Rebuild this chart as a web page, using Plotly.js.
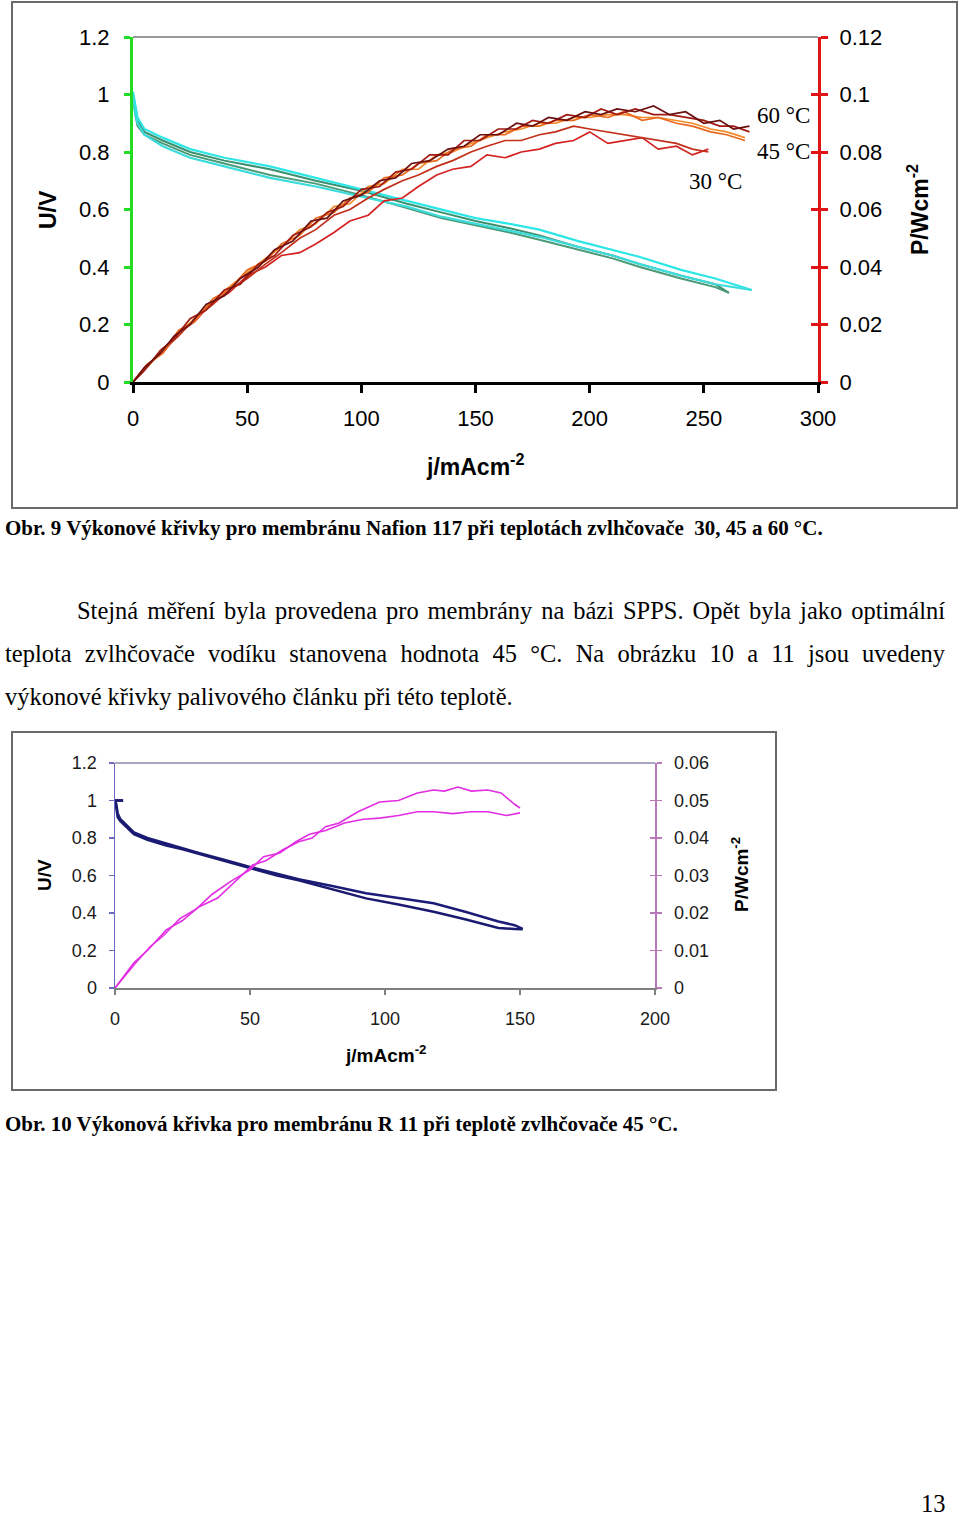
<!DOCTYPE html>
<html><head><meta charset="utf-8">
<script src="https://cdn.plot.ly/plotly-3.0.1.min.js"></script>
<style>
body{margin:0;width:960px;height:1514px;position:relative;background:#fff;overflow:hidden}
#plot{position:absolute;left:0;top:0;width:960px;height:1514px}
.frame{position:absolute;border:2px solid #6a6a6a;box-sizing:border-box;pointer-events:none}
.t{position:absolute;font-family:"Liberation Serif","Times New Roman",serif;color:#000;white-space:nowrap;pointer-events:none}
.j{text-align:justify;text-align-last:justify;white-space:normal;overflow:hidden}
</style></head><body>
<div class="frame" style="left:11px;top:1px;width:947px;height:508px"></div>
<div class="frame" style="left:11px;top:731px;width:766px;height:360px"></div>
<div id="plot"></div>
<div class="t" id="cap1" style="font-weight:bold">Obr. 9 Výkonové křivky pro membránu Nafion 117 při teplotách zvlhčovače&nbsp; 30, 45 a 60 °C.</div>
<div class="t j" id="p1">Stejná měření byla provedena pro membrány na bázi SPPS. Opět byla jako optimální</div>
<div class="t j" id="p2">teplota zvlhčovače vodíku stanovena hodnota 45 °C. Na obrázku 10 a 11 jsou uvedeny</div>
<div class="t" id="p3">výkonové křivky palivového článku při této teplotě.</div>
<div class="t" id="cap2" style="font-weight:bold">Obr. 10 Výkonová křivka pro membránu R 11 při teplotě zvlhčovače 45 °C.</div>
<div class="t" id="pg">13</div>
<script>
// ---------- Chart 1: Nafion 117 ----------
const xTicks1 = [0, 50, 100, 150, 200, 250, 300];
const uTicks1 = [0, 0.2, 0.4, 0.6, 0.8, 1, 1.2];
const pTicks1 = [0, 0.02, 0.04, 0.06, 0.08, 0.1, 0.12];

const jU_cyan = [0, 1, 2, 5, 13, 25, 40, 60, 80, 100, 120, 135, 150, 165, 178, 195, 210, 222, 240, 255, 271];
const U_cyanA = [1.01, 0.96, 0.92, 0.88, 0.85, 0.81, 0.78, 0.75, 0.71, 0.67, 0.63, 0.60, 0.57, 0.55, 0.53, 0.49, 0.46, 0.435, 0.39, 0.36, 0.32];
const U_cyanB = [1.0, 0.93, 0.90, 0.86, 0.82, 0.78, 0.75, 0.71, 0.68, 0.645, 0.61, 0.575, 0.55, 0.525, 0.505, 0.47, 0.44, 0.41, 0.37, 0.34, 0.32];
const jU_green = [0, 1, 2, 5, 13, 25, 40, 60, 80, 100, 120, 135, 150, 165, 178, 195, 210, 222, 240, 255, 261];
const U_greenA = [1.0, 0.95, 0.91, 0.87, 0.84, 0.80, 0.77, 0.74, 0.70, 0.665, 0.62, 0.59, 0.56, 0.535, 0.51, 0.47, 0.44, 0.41, 0.37, 0.34, 0.31];
const U_greenB = [0.99, 0.93, 0.89, 0.86, 0.83, 0.79, 0.76, 0.72, 0.69, 0.65, 0.605, 0.57, 0.545, 0.52, 0.495, 0.46, 0.43, 0.40, 0.36, 0.33, 0.31];

const jP60 = [0, 5, 12, 18, 25, 32, 40, 47, 55, 62, 70, 78, 85, 92, 100, 108, 115, 122, 130, 138, 145, 152, 160, 168, 175, 182, 190, 198, 205, 212, 220, 228, 235, 242, 250, 257, 263, 270];
const P60a = [0, 0.005, 0.010, 0.016, 0.020, 0.027, 0.030, 0.036, 0.040, 0.046, 0.049, 0.056, 0.057, 0.063, 0.065, 0.070, 0.071, 0.076, 0.077, 0.081, 0.082, 0.086, 0.086, 0.090, 0.089, 0.092, 0.091, 0.094, 0.093, 0.095, 0.094, 0.096, 0.093, 0.094, 0.090, 0.091, 0.088, 0.089];
const P60b = [0, 0.004, 0.011, 0.015, 0.022, 0.025, 0.032, 0.034, 0.041, 0.044, 0.051, 0.054, 0.059, 0.061, 0.067, 0.068, 0.073, 0.074, 0.079, 0.079, 0.084, 0.084, 0.088, 0.088, 0.091, 0.090, 0.093, 0.092, 0.095, 0.093, 0.095, 0.093, 0.093, 0.092, 0.091, 0.089, 0.089, 0.087];
const jP45 = [0, 6, 13, 20, 27, 35, 42, 50, 58, 65, 73, 80, 88, 95, 103, 110, 118, 125, 133, 140, 148, 155, 163, 170, 178, 185, 193, 200, 208, 215, 223, 230, 238, 245, 253, 260, 268];
const P45a = [0, 0.005, 0.011, 0.017, 0.022, 0.028, 0.033, 0.038, 0.043, 0.047, 0.053, 0.055, 0.061, 0.062, 0.068, 0.069, 0.074, 0.074, 0.079, 0.080, 0.083, 0.085, 0.087, 0.088, 0.090, 0.090, 0.092, 0.092, 0.093, 0.093, 0.092, 0.092, 0.091, 0.090, 0.088, 0.087, 0.085];
const P45b = [0, 0.006, 0.010, 0.018, 0.021, 0.029, 0.032, 0.039, 0.042, 0.048, 0.051, 0.057, 0.059, 0.064, 0.066, 0.071, 0.072, 0.076, 0.077, 0.081, 0.082, 0.086, 0.086, 0.089, 0.089, 0.091, 0.091, 0.093, 0.092, 0.094, 0.091, 0.092, 0.090, 0.089, 0.087, 0.086, 0.084];
const jP30 = [0, 6, 13, 20, 27, 35, 42, 50, 58, 65, 73, 80, 88, 95, 103, 110, 118, 125, 133, 140, 148, 155, 163, 170, 178, 185, 193, 200, 208, 215, 223, 230, 238, 245, 252];
const P30a = [0, 0.006, 0.010, 0.017, 0.021, 0.028, 0.031, 0.037, 0.040, 0.044, 0.045, 0.048, 0.052, 0.056, 0.058, 0.063, 0.064, 0.068, 0.072, 0.074, 0.075, 0.079, 0.078, 0.080, 0.081, 0.083, 0.084, 0.087, 0.083, 0.084, 0.085, 0.081, 0.082, 0.079, 0.081];
const P30b = [0, 0.005, 0.011, 0.016, 0.022, 0.027, 0.032, 0.036, 0.041, 0.045, 0.050, 0.053, 0.058, 0.060, 0.064, 0.067, 0.070, 0.072, 0.075, 0.077, 0.080, 0.082, 0.084, 0.084, 0.086, 0.087, 0.089, 0.088, 0.087, 0.086, 0.085, 0.084, 0.083, 0.081, 0.080];

// ---------- Chart 2: R 11 ----------
const xTicks2 = [0, 50, 100, 150, 200];
const uTicks2 = [0, 0.2, 0.4, 0.6, 0.8, 1, 1.2];
const pTicks2 = [0, 0.01, 0.02, 0.03, 0.04, 0.05, 0.06];
const jU2 = [3, 0, 0.5, 1, 2, 4, 7, 12, 19, 25, 31, 40, 50, 60, 68, 80, 93, 105, 118, 130, 142, 148, 151];
const U2a = [1.0, 1.0, 0.98, 0.93, 0.90, 0.87, 0.83, 0.80, 0.77, 0.745, 0.72, 0.685, 0.645, 0.61, 0.58, 0.545, 0.505, 0.48, 0.452, 0.405, 0.355, 0.335, 0.315];
const U2b = [1.0, 1.0, 0.96, 0.91, 0.89, 0.86, 0.82, 0.79, 0.76, 0.74, 0.715, 0.68, 0.64, 0.60, 0.575, 0.53, 0.478, 0.445, 0.407, 0.365, 0.32, 0.315, 0.313];
const jP2a = [0, 3, 7, 12, 19, 25, 31, 38, 44, 51, 56, 62, 68, 73, 78, 83, 90, 98, 105, 112, 118, 122, 127, 132, 138, 143, 148, 150];
const P2a = [0, 0.003, 0.0067, 0.010, 0.0155, 0.018, 0.0216, 0.024, 0.028, 0.0328, 0.034, 0.0368, 0.039, 0.040, 0.043, 0.044, 0.047, 0.0496, 0.050, 0.052, 0.0528, 0.0525, 0.0536, 0.0525, 0.0528, 0.052, 0.049, 0.048];
const jP2b = [0, 4, 8, 13, 18, 24, 30, 36, 43, 50, 55, 61, 67, 72, 78, 85, 92, 98, 105, 112, 118, 125, 132, 138, 145, 150];
const P2b = [0, 0.0035, 0.007, 0.011, 0.014, 0.0185, 0.021, 0.025, 0.0285, 0.0315, 0.035, 0.036, 0.039, 0.041, 0.042, 0.044, 0.045, 0.0453, 0.046, 0.047, 0.047, 0.0465, 0.047, 0.047, 0.046, 0.0467];

const X = px => px / 960, Y = py => 1 - py / 1514;
const SANS = '"Liberation Sans", Arial, sans-serif';
const SERIF = '"Liberation Serif", "Times New Roman", serif';

function ln(x, y, xa, ya, color, w) {
  return {x: x, y: y, xaxis: xa, yaxis: ya, type: 'scatter', mode: 'lines', line: {color: color, width: w}, hoverinfo: 'skip'};
}
const traces = [
  ln(jU_green, U_greenA, 'x', 'y', '#3b8f6e', 2),
  ln(jU_green, U_greenB, 'x', 'y', '#4a9a78', 2),
  ln(jU_cyan, U_cyanA, 'x', 'y', '#2ee6e6', 2.2),
  ln(jU_cyan, U_cyanB, 'x', 'y', '#3cdcdc', 2.2),
  ln(jP30, P30a, 'x', 'y2', '#d42222', 1.7),
  ln(jP30, P30b, 'x', 'y2', '#c2301a', 1.7),
  ln(jP45, P45a, 'x', 'y2', '#f28a2a', 1.7),
  ln(jP45, P45b, 'x', 'y2', '#e8681c', 1.7),
  ln(jP60, P60b, 'x', 'y2', '#a01a12', 1.7),
  ln(jP60, P60a, 'x', 'y2', '#6a1010', 1.7),
  {x: [], y: [], xaxis: 'x', yaxis: 'y3', type: 'scatter'},
  ln(jU2, U2a, 'x2', 'y4', '#1c1c78', 2.5),
  ln(jU2, U2b, 'x2', 'y4', '#1a1a70', 2.5),
  ln(jP2a, P2a, 'x2', 'y5', '#e22ee2', 1.6),
  ln(jP2b, P2b, 'x2', 'y5', '#e22ee2', 1.6),
  {x: [], y: [], xaxis: 'x2', yaxis: 'y6', type: 'scatter'}
];

const base = {showgrid: false, zeroline: false, fixedrange: true, tickmode: 'array'};
const f1 = {family: SANS, size: 22, color: '#000'};
const f2 = {family: SANS, size: 18, color: '#1a1a1a'};
const RED = '#e01414', GREEN = '#22dd22';

const layout = {
  width: 960, height: 1514, margin: {l: 0, r: 0, t: 0, b: 0},
  paper_bgcolor: 'rgba(0,0,0,0)', plot_bgcolor: 'rgba(0,0,0,0)', showlegend: false,
  xaxis: Object.assign({}, base, {domain: [X(133), X(818)], range: [0, 300], anchor: 'y', tickvals: xTicks1,
    ticks: 'outside', ticklen: 8, tickwidth: 3, tickcolor: '#000', showline: true, linecolor: '#000', linewidth: 3,
    tickfont: f1, ticklabelstandoff: 7}),
  yaxis: Object.assign({}, base, {domain: [Y(382), Y(37)], range: [0, 1.2], anchor: 'x', tickvals: uTicks1,
    ticks: 'outside', ticklen: 6, tickwidth: 3, tickcolor: GREEN, showline: true, linecolor: GREEN, linewidth: 3,
    tickfont: f1, ticklabelstandoff: 10}),
  yaxis2: Object.assign({}, base, {overlaying: 'y', side: 'right', anchor: 'x', range: [0, 0.12], tickvals: pTicks1,
    ticks: 'outside', ticklen: 7, tickwidth: 3, tickcolor: RED, showline: true, linecolor: RED, linewidth: 3,
    tickfont: f1, ticklabelstandoff: 7}),
  yaxis3: Object.assign({}, base, {overlaying: 'y', side: 'right', anchor: 'x', range: [0, 0.12], tickvals: pTicks1,
    ticks: 'inside', ticklen: 7, tickwidth: 3, tickcolor: RED, showline: false, showticklabels: false}),
  xaxis2: Object.assign({}, base, {domain: [X(115), X(655)], range: [0, 200], anchor: 'y4', tickvals: xTicks2,
    ticks: 'outside', ticklen: 5, tickwidth: 1.5, tickcolor: '#808080', showline: true, linecolor: '#808080', linewidth: 2,
    tickfont: f2, ticklabelstandoff: 8}),
  yaxis4: Object.assign({}, base, {domain: [Y(988), Y(763)], range: [0, 1.2], anchor: 'x2', tickvals: uTicks2,
    ticks: 'outside', ticklen: 5, tickwidth: 1.2, tickcolor: '#6b6bc0', showline: true, linecolor: '#6b6bc0', linewidth: 1.5,
    tickfont: f2, ticklabelstandoff: 8}),
  yaxis5: Object.assign({}, base, {overlaying: 'y4', side: 'right', anchor: 'x2', range: [0, 0.06], tickvals: pTicks2,
    ticks: 'outside', ticklen: 5, tickwidth: 1.2, tickcolor: '#b878b8', showline: true, linecolor: '#b878b8', linewidth: 1.5,
    tickfont: f2, ticklabelstandoff: 9}),
  yaxis6: Object.assign({}, base, {overlaying: 'y4', side: 'right', anchor: 'x2', range: [0, 0.06], tickvals: pTicks2,
    ticks: 'inside', ticklen: 5, tickwidth: 1.2, tickcolor: '#b878b8', showline: false, showticklabels: false}),
  shapes: [
    {type: 'line', xref: 'paper', yref: 'paper', x0: X(133), x1: X(818), y0: Y(37), y1: Y(37), line: {color: '#9a9a9a', width: 2}},
    {type: 'line', xref: 'paper', yref: 'paper', x0: X(115), x1: X(655), y0: Y(763), y1: Y(763), line: {color: '#8a8ab0', width: 1.5}}
  ],
  annotations: [
    {text: '<b>U/V</b>', x: X(48), y: Y(210), textangle: -90, font: {family: SANS, size: 23, color: '#000'}},
    {text: '<b>P/Wcm<sup>-2</sup></b>', x: X(918), y: Y(210), textangle: -90, font: {family: SANS, size: 23, color: '#000'}},
    {text: '<b>j/mAcm<sup>-2</sup></b>', x: X(475), y: Y(465), font: {family: SANS, size: 23, color: '#000'}},
    {text: '60 °C', x: X(783), y: Y(115), font: {family: SERIF, size: 23, color: '#000'}},
    {text: '45 °C', x: X(783), y: Y(152), font: {family: SERIF, size: 23, color: '#000'}},
    {text: '30 °C', x: X(715), y: Y(181), font: {family: SERIF, size: 23, color: '#000'}},
    {text: '<b>U/V</b>', x: X(45), y: Y(875), textangle: -90, font: {family: SANS, size: 19, color: '#000'}},
    {text: '<b>P/Wcm<sup>-2</sup></b>', x: X(740), y: Y(875), textangle: -90, font: {family: SANS, size: 19, color: '#000'}},
    {text: '<b>j/mAcm<sup>-2</sup></b>', x: X(385), y: Y(1054), font: {family: SANS, size: 19, color: '#000'}}
  ].map(a => Object.assign({xref: 'paper', yref: 'paper', showarrow: false, xanchor: 'center', yanchor: 'middle'}, a))
};

Plotly.newPlot('plot', traces, layout, {staticPlot: true, displayModeBar: false});

// ---------- text placement ----------
function place(id, left, cy, fs, width, lh) {
  const el = document.getElementById(id);
  const h = Math.round(fs * (lh || 1.2));
  el.style.fontSize = fs + 'px';
  el.style.lineHeight = h + 'px';
  el.style.left = left + 'px';
  el.style.top = Math.round(cy - h / 2) + 'px';
  if (width) el.style.width = width + 'px';
  return el;
}
function fit(id, left, cy, fs, target) {
  const el = place(id, left, cy, fs);
  const w = el.getBoundingClientRect().width;
  const nfs = fs * target / w;
  place(id, left, cy, nfs);
  return nfs;
}
const fsBody = fit('p3', 5, 696, 22, 508);
place('p1', 77, 610, fsBody, 868);
place('p2', 5, 653, fsBody, 940);
fit('cap1', 5, 528, 19, 818);
fit('cap2', 5, 1124, 19, 673);
place('pg', 921, 1503, fsBody, null, 0.95);
</script>
</body></html>
